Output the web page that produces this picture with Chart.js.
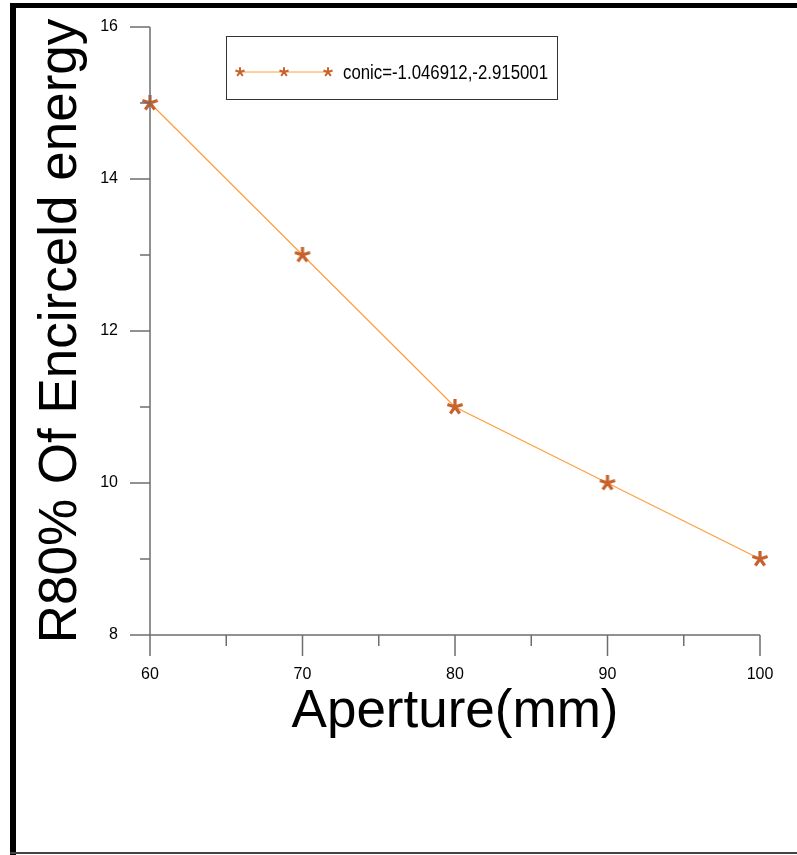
<!DOCTYPE html>
<html>
<head>
<meta charset="utf-8">
<script src="https://cdn.jsdelivr.net/npm/chart.js@4"></script>
<style>
  html, body { margin: 0; padding: 0; background: #fff; }
  canvas { display: block; }
</style>
</head>
<body>
<canvas id="chart" width="797" height="855"></canvas>
<script>
// data
var apertures = [60, 70, 80, 90, 100];
var r80 = [15, 13, 11, 10, 9];
var seriesLabel = 'conic=-1.046912,-2.915001';
var xMajor = [60, 70, 80, 90, 100];
var xMinor = [65, 75, 85, 95];
var yMajor = [8, 10, 12, 14, 16];
var yMinor = [9, 11, 13, 15];

var FONT = '"Liberation Sans", Arial, sans-serif';
var MARK = '#C8622C';
var LINE = '#FFA040';
var AXIS = '#6e6e6e';

function asterisk(size, arm, width) {
    var c = document.createElement('canvas');
    c.width = size;
    c.height = size;
    var g = c.getContext('2d');
    g.strokeStyle = MARK;
    g.lineWidth = width;
    g.beginPath();
    for (var i = 0; i < 5; i++) {
        var a = -Math.PI / 2 + i * 2 * Math.PI / 5;
        g.moveTo(size / 2, size / 2);
        g.lineTo(size / 2 + arm * Math.cos(a), size / 2 + arm * Math.sin(a));
    }
    g.stroke();
    return c;
}
var bigStar = asterisk(20, 8, 3.2);
var smallStar = asterisk(12, 4.8, 2);

var decor = {
    id: 'decor',
    afterDraw: function (chart) {
        var ctx = chart.ctx;
        var xs = chart.scales.x, ys = chart.scales.y;
        var y0 = ys.getPixelForValue(8), x0 = xs.getPixelForValue(60);
        ctx.save();
        // frame around the picture
        ctx.fillStyle = '#000';
        ctx.fillRect(10, 3, 6, 852);
        ctx.fillRect(10, 3, 787, 5);
        ctx.fillStyle = '#444';
        ctx.fillRect(10, 852, 787, 2);

        // axes and ticks
        ctx.strokeStyle = AXIS;
        ctx.lineWidth = 1.5;
        ctx.beginPath();
        ctx.moveTo(x0, ys.getPixelForValue(16));
        ctx.lineTo(x0, y0);
        ctx.moveTo(x0, y0);
        ctx.lineTo(xs.getPixelForValue(100), y0);
        xMajor.forEach(function (v) {
            var p = xs.getPixelForValue(v);
            ctx.moveTo(p, y0); ctx.lineTo(p, y0 + 21);
        });
        xMinor.forEach(function (v) {
            var p = xs.getPixelForValue(v);
            ctx.moveTo(p, y0); ctx.lineTo(p, y0 + 11);
        });
        yMajor.forEach(function (v) {
            var p = ys.getPixelForValue(v);
            ctx.moveTo(x0, p); ctx.lineTo(x0 - 20, p);
        });
        yMinor.forEach(function (v) {
            var p = ys.getPixelForValue(v);
            ctx.moveTo(x0, p); ctx.lineTo(x0 - 10, p);
        });
        ctx.stroke();

        // legend box
        ctx.strokeStyle = '#333';
        ctx.lineWidth = 1;
        ctx.strokeRect(226.5, 36.5, 331, 63);
        ctx.strokeStyle = LINE;
        ctx.beginPath();
        ctx.moveTo(240, 72);
        ctx.lineTo(328, 72);
        ctx.stroke();
        [240, 284, 328].forEach(function (x) {
            ctx.drawImage(smallStar, x - 6, 72 - 6);
        });
        ctx.fillStyle = '#000';
        ctx.font = '20px "Liberation Sans Narrow", "Arial Narrow", ' + FONT;
        ctx.textBaseline = 'middle';
        var w = ctx.measureText(seriesLabel).width;
        ctx.translate(343, 73);
        if (w > 205) ctx.scale(205 / w, 1);
        ctx.fillText(seriesLabel, 0, 0);
        ctx.restore();
    }
};

new Chart(document.getElementById('chart').getContext('2d'), {
    type: 'line',
    data: {
        datasets: [{
            label: seriesLabel,
            data: apertures.map(function (x, i) { return { x: x, y: r80[i] }; }),
            borderColor: LINE,
            borderWidth: 1.3,
            tension: 0,
            pointStyle: bigStar,
            clip: false
        }]
    },
    options: {
        responsive: false,
        animation: false,
        layout: { padding: { left: 0, top: 27, right: 37, bottom: 0 } },
        plugins: {
            legend: { display: false },
            tooltip: { enabled: false }
        },
        scales: {
            x: {
                type: 'linear',
                min: 60,
                max: 100,
                afterFit: function (s) {
                    s.height = 220;
                    s.paddingLeft = 0;
                    s.paddingRight = 0;
                },
                grid: { display: false, drawTicks: false },
                border: { display: false },
                ticks: {
                    stepSize: 10,
                    padding: 30,
                    color: '#000',
                    font: { family: FONT, size: 16 }
                },
                title: {
                    display: true,
                    text: 'Aperture(mm)',
                    color: '#000',
                    font: { family: FONT, size: 53 },
                    padding: { top: 0, bottom: 111 }
                }
            },
            y: {
                min: 8,
                max: 16,
                afterFit: function (s) {
                    s.width = 150;
                    s.paddingTop = 0;
                    s.paddingBottom = 0;
                },
                grid: { display: false, drawTicks: false },
                border: { display: false },
                ticks: {
                    stepSize: 1,
                    padding: 32,
                    color: '#000',
                    font: { family: FONT, size: 16 },
                    callback: function (v) { return v % 2 === 0 ? v : ''; }
                },
                title: {
                    display: true,
                    text: 'R80% Of Encirceld energy',
                    color: '#000',
                    font: { family: FONT, size: 53 },
                    padding: { top: 30, bottom: 0 }
                }
            }
        }
    },
    plugins: [decor]
});
</script>
</body>
</html>
